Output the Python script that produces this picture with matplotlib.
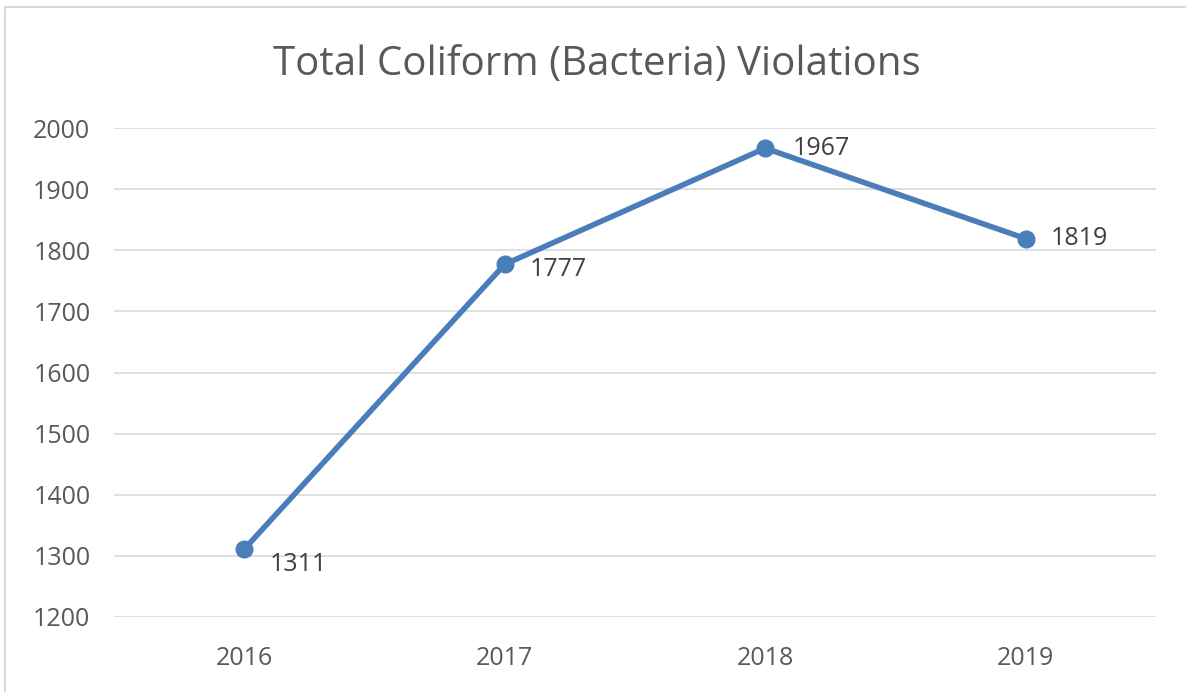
import matplotlib.pyplot as plt
from matplotlib.patches import Rectangle

# violations per year
years = ["2016", "2017", "2018", "2019"]
counts = [1311, 1777, 1967, 1819]
yticks = [1200, 1300, 1400, 1500, 1600, 1700, 1800, 1900, 2000]

plt.rcParams['font.family'] = ['Open Sans', 'DejaVu Sans']
gray = '#595959'
blue = '#4A7EBB'

fig = plt.figure(figsize=(11.86, 6.92), dpi=100)
ax = fig.add_axes([0.0961, 0.1084, 0.8786, 0.7066])

x = range(len(years))
ax.plot(x, counts, color=blue, linewidth=4, marker='o', markersize=12,
        solid_capstyle='round', zorder=3)

# label offsets (points) to the right of each marker
offsets = [(18, -11), (18, -4), (20, 0), (18, 0)]
for i, v in enumerate(counts):
    ax.annotate(str(v), (i, v), xytext=offsets[i], textcoords='offset points',
                ha='left', va='center', fontsize=18, color='#404040')

ax.set_xlim(-0.5, len(years) - 0.5)
ax.set_ylim(1200, 2000)
ax.set_xticks(list(x))
ax.set_xticklabels(years)
ax.set_yticks(yticks)
ax.tick_params(axis='both', length=0, labelsize=18, labelcolor=gray)
ax.tick_params(axis='x', pad=21)
ax.tick_params(axis='y', pad=17)
ax.grid(axis='y', color='#d9d9d9', linewidth=1.2)
ax.set_axisbelow(True)
for s in ax.spines.values():
    s.set_visible(False)

fig.text(0.503, 0.906, "Total Coliform (Bacteria) Violations", ha='center',
         va='center', fontsize=29, color=gray)

# chart frame
fig.add_artist(Rectangle((5 / 1186, -0.1), 1.2, 1 - 7 / 692 + 0.1,
                         transform=fig.transFigure, fill=False,
                         edgecolor='#d9d9d9', linewidth=1.5))

fig.savefig('out.png', dpi=100)
